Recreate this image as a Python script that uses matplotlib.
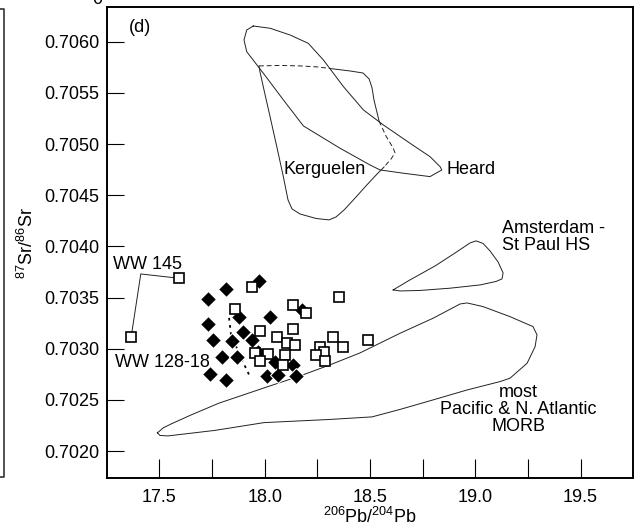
import matplotlib
matplotlib.use("Agg")
import matplotlib.pyplot as plt
from matplotlib.lines import Line2D

plt.rcParams["font.family"] = ["Liberation Sans", "DejaVu Sans"]
plt.rcParams["mathtext.fontset"] = "custom"
plt.rcParams["mathtext.rm"] = "Liberation Sans"
plt.rcParams["mathtext.it"] = "Liberation Sans:italic"
plt.rcParams["mathtext.default"] = "regular"

FS = 13

# ── samples ─────────────────────────────────────────────────────────────────
diamond_pb = [17.973, 17.817, 17.733, 18.027, 17.877, 17.733, 17.897, 17.754,
              17.846, 17.941, 17.796, 17.868, 17.970, 17.741, 17.816, 18.011,
              18.065, 18.135, 18.151, 18.176, 18.049]
diamond_sr = [0.703663, 0.703585, 0.703487, 0.703314, 0.703307, 0.703238,
              0.703160, 0.703087, 0.703079, 0.703082, 0.702924, 0.702916,
              0.702973, 0.702755, 0.702691, 0.702732, 0.702740, 0.702838,
              0.702732, 0.703380, 0.702875]

square_pb = [17.594, 17.366, 17.940, 18.353, 17.859, 18.133, 18.198, 17.978,
             18.133, 18.059, 18.106, 18.142, 18.323, 18.371, 18.263, 18.281,
             18.242, 18.287, 18.492, 17.952, 18.018, 17.980, 18.097, 18.086]
square_sr = [0.703689, 0.703113, 0.703607, 0.703510, 0.703392, 0.703429,
             0.703351, 0.703175, 0.703196, 0.703116, 0.703055, 0.703033,
             0.703116, 0.703019, 0.703017, 0.702973, 0.702936, 0.702880,
             0.703087, 0.702957, 0.702950, 0.702882, 0.702940, 0.702843]

# WW 145 tie line
ww_pb = [17.366, 17.412, 17.594]
ww_sr = [0.703113, 0.703731, 0.703689]

# short dashed trace inside the cluster
trace_pb = [17.831, 17.840, 17.883, 17.931]
trace_sr = [0.703302, 0.703145, 0.702931, 0.702726]

# ── fields ──────────────────────────────────────────────────────────────────
heard_pb = [17.946, 18.026, 18.121, 18.207, 18.279, 18.374, 18.469, 18.564,
            18.690, 18.785, 18.833, 18.841, 18.785, 18.659, 18.548, 18.500,
            18.358, 18.184, 18.089, 17.994, 17.915, 17.902, 17.915, 17.946]
heard_sr = [0.706153, 0.706131, 0.706065, 0.705984, 0.705821, 0.705561,
            0.705333, 0.705186, 0.705008, 0.704877, 0.704779, 0.704747,
            0.704682, 0.704715, 0.704747, 0.704796, 0.704959, 0.705177,
            0.705431, 0.705691, 0.705902, 0.706017, 0.706114, 0.706153]

kerg_top_pb = [17.973, 18.073, 18.168, 18.254, 18.310]
kerg_top_sr = [0.705763, 0.705768, 0.705763, 0.705753, 0.705738]
kerg_right_pb = [18.310, 18.405, 18.467, 18.496, 18.510, 18.519, 18.534, 18.543]
kerg_right_sr = [0.705738, 0.705714, 0.705694, 0.705636, 0.705548, 0.705431,
                 0.705304, 0.705226]
kerg_inner_pb = [18.543, 18.576, 18.610, 18.619, 18.600, 18.567]
kerg_inner_sr = [0.705226, 0.705079, 0.704962, 0.704913, 0.704854, 0.704776]
kerg_low_pb = [18.567, 18.534, 18.481, 18.434, 18.377, 18.339, 18.306, 18.244,
               18.168, 18.130, 18.111, 18.087, 18.059, 18.026, 17.997, 17.978,
               17.973]
kerg_low_sr = [0.704776, 0.704708, 0.704591, 0.704483, 0.704356, 0.704288,
               0.704259, 0.704273, 0.704317, 0.704366, 0.704454, 0.704698,
               0.704962, 0.705265, 0.705528, 0.705704, 0.705763]

ams_pb = [18.610, 18.690, 18.809, 18.904, 18.975, 19.004, 19.037, 19.070,
          19.108, 19.132, 19.127, 19.099, 19.023, 18.880, 18.738, 18.643, 18.610]
ams_sr = [0.703575, 0.703673, 0.703809, 0.703936, 0.704034, 0.704054,
          0.704029, 0.703956, 0.703849, 0.703741, 0.703683, 0.703658,
          0.703624, 0.703592, 0.703570, 0.703565, 0.703575]

morb_pb = [17.491, 17.518, 17.556, 17.651, 17.783, 18.016, 18.168, 18.310,
           18.453, 18.643, 18.800, 18.928, 18.961, 19.037, 19.165, 19.274,
           19.293, 19.284, 19.246, 19.165, 19.118, 18.961, 18.800, 18.643,
           18.510, 18.310, 17.997, 17.764, 17.541, 17.503, 17.491]
morb_sr = [0.702179, 0.702227, 0.702266, 0.702354, 0.702469, 0.702631,
           0.702735, 0.702843, 0.702960, 0.703152, 0.703299, 0.703438,
           0.703448, 0.703412, 0.703314, 0.703217, 0.703136, 0.703021,
           0.702859, 0.702713, 0.702680, 0.702598, 0.702501, 0.702408,
           0.702335, 0.702310, 0.702279, 0.702203, 0.702149, 0.702154,
           0.702179]

x_major = [17.5, 18.0, 18.5, 19.0, 19.5]
x_minor = [17.75, 18.25, 18.75, 19.25]
y_ticks = [0.7020, 0.7025, 0.7030, 0.7035, 0.7040, 0.7045, 0.7050, 0.7055, 0.7060]

fig = plt.figure(figsize=(6.36, 5.31), dpi=100)
ax = fig.add_axes([0.1687, 0.1002, 0.8270, 0.8861])

lw = 0.7
ax.plot(heard_pb, heard_sr, color="#222222", lw=lw)
ax.plot(kerg_top_pb, kerg_top_sr, color="#222222", lw=lw, ls=(0, (5, 3)))
ax.plot(kerg_right_pb, kerg_right_sr, color="#222222", lw=lw)
ax.plot(kerg_inner_pb, kerg_inner_sr, color="#222222", lw=lw, ls=(0, (5, 3)))
ax.plot(kerg_low_pb, kerg_low_sr, color="#222222", lw=lw)
ax.plot(ams_pb, ams_sr, color="#222222", lw=lw)
ax.plot(morb_pb, morb_sr, color="#222222", lw=lw)
ax.plot(ww_pb, ww_sr, color="#222222", lw=lw)
ax.plot(trace_pb, trace_sr, color="black", lw=1.3, ls=(0, (1.5, 2.5)))

ax.plot(diamond_pb, diamond_sr, ls="none", marker="D", ms=8, mfc="black",
        mec="white", mew=0.8, zorder=3)
ax.plot(square_pb, square_sr, ls="none", marker="s", ms=7.5, mfc="white",
        mec="black", mew=1.2, zorder=4)

# labels
ax.text(17.356, 0.706134, "(d)", fontsize=FS, ha="left", va="center")
ax.text(18.089, 0.704747, "Kerguelen", fontsize=FS, ha="left", va="center")
ax.text(18.861, 0.704747, "Heard", fontsize=FS, ha="left", va="center")
ax.text(19.127, 0.704093, "Amsterdam -\nSt Paul HS", fontsize=FS, ha="left",
        va="center", linespacing=1.0)
ax.text(19.203, 0.702403, "most\nPacific & N. Atlantic\nMORB", fontsize=FS,
        ha="center", va="center", multialignment="center", linespacing=1.0)
ax.text(17.279, 0.703824, "WW 145", fontsize=FS, ha="left", va="center")
ax.text(17.290, 0.702862, "WW 128-18", fontsize=FS, ha="left", va="center")

ax.set_xlim(17.253, 19.75)
ax.set_ylim(0.70174, 0.706336)
ax.set_xticks(x_major)
ax.set_xticklabels([f"{v:.1f}" for v in x_major])
ax.set_xticks(x_minor, minor=True)
ax.set_yticks(y_ticks)
ax.set_yticklabels([f"{v:.4f}" for v in y_ticks])
ax.tick_params(axis="x", which="both", direction="in", length=13.5, width=0.8,
               pad=8, labelsize=FS)
ax.tick_params(axis="y", which="both", direction="in", length=12, width=0.8,
               pad=5.8, labelsize=FS)
for sp in ax.spines.values():
    sp.set_linewidth(1.4)

ax.set_xlabel(r"$^{206}$Pb/$^{204}$Pb", fontsize=FS)
ax.xaxis.set_label_coords(0.5, -0.062)
ax.set_ylabel(r"$^{87}$Sr/$^{86}$Sr", fontsize=FS)
ax.yaxis.set_label_coords(-0.134, 0.5)

# edge of the neighbouring panel, cut off in the original
fig.add_artist(Line2D([0.0, 0.0063, 0.0063, 0.0], [0.983, 0.983, 0.1008, 0.1008],
                      color="#333333", lw=1.2, transform=fig.transFigure))
fig.text(0.1525, 0.9925, "0", fontsize=FS, ha="center", va="baseline")

fig.savefig("out.png", dpi=100, facecolor="white")
